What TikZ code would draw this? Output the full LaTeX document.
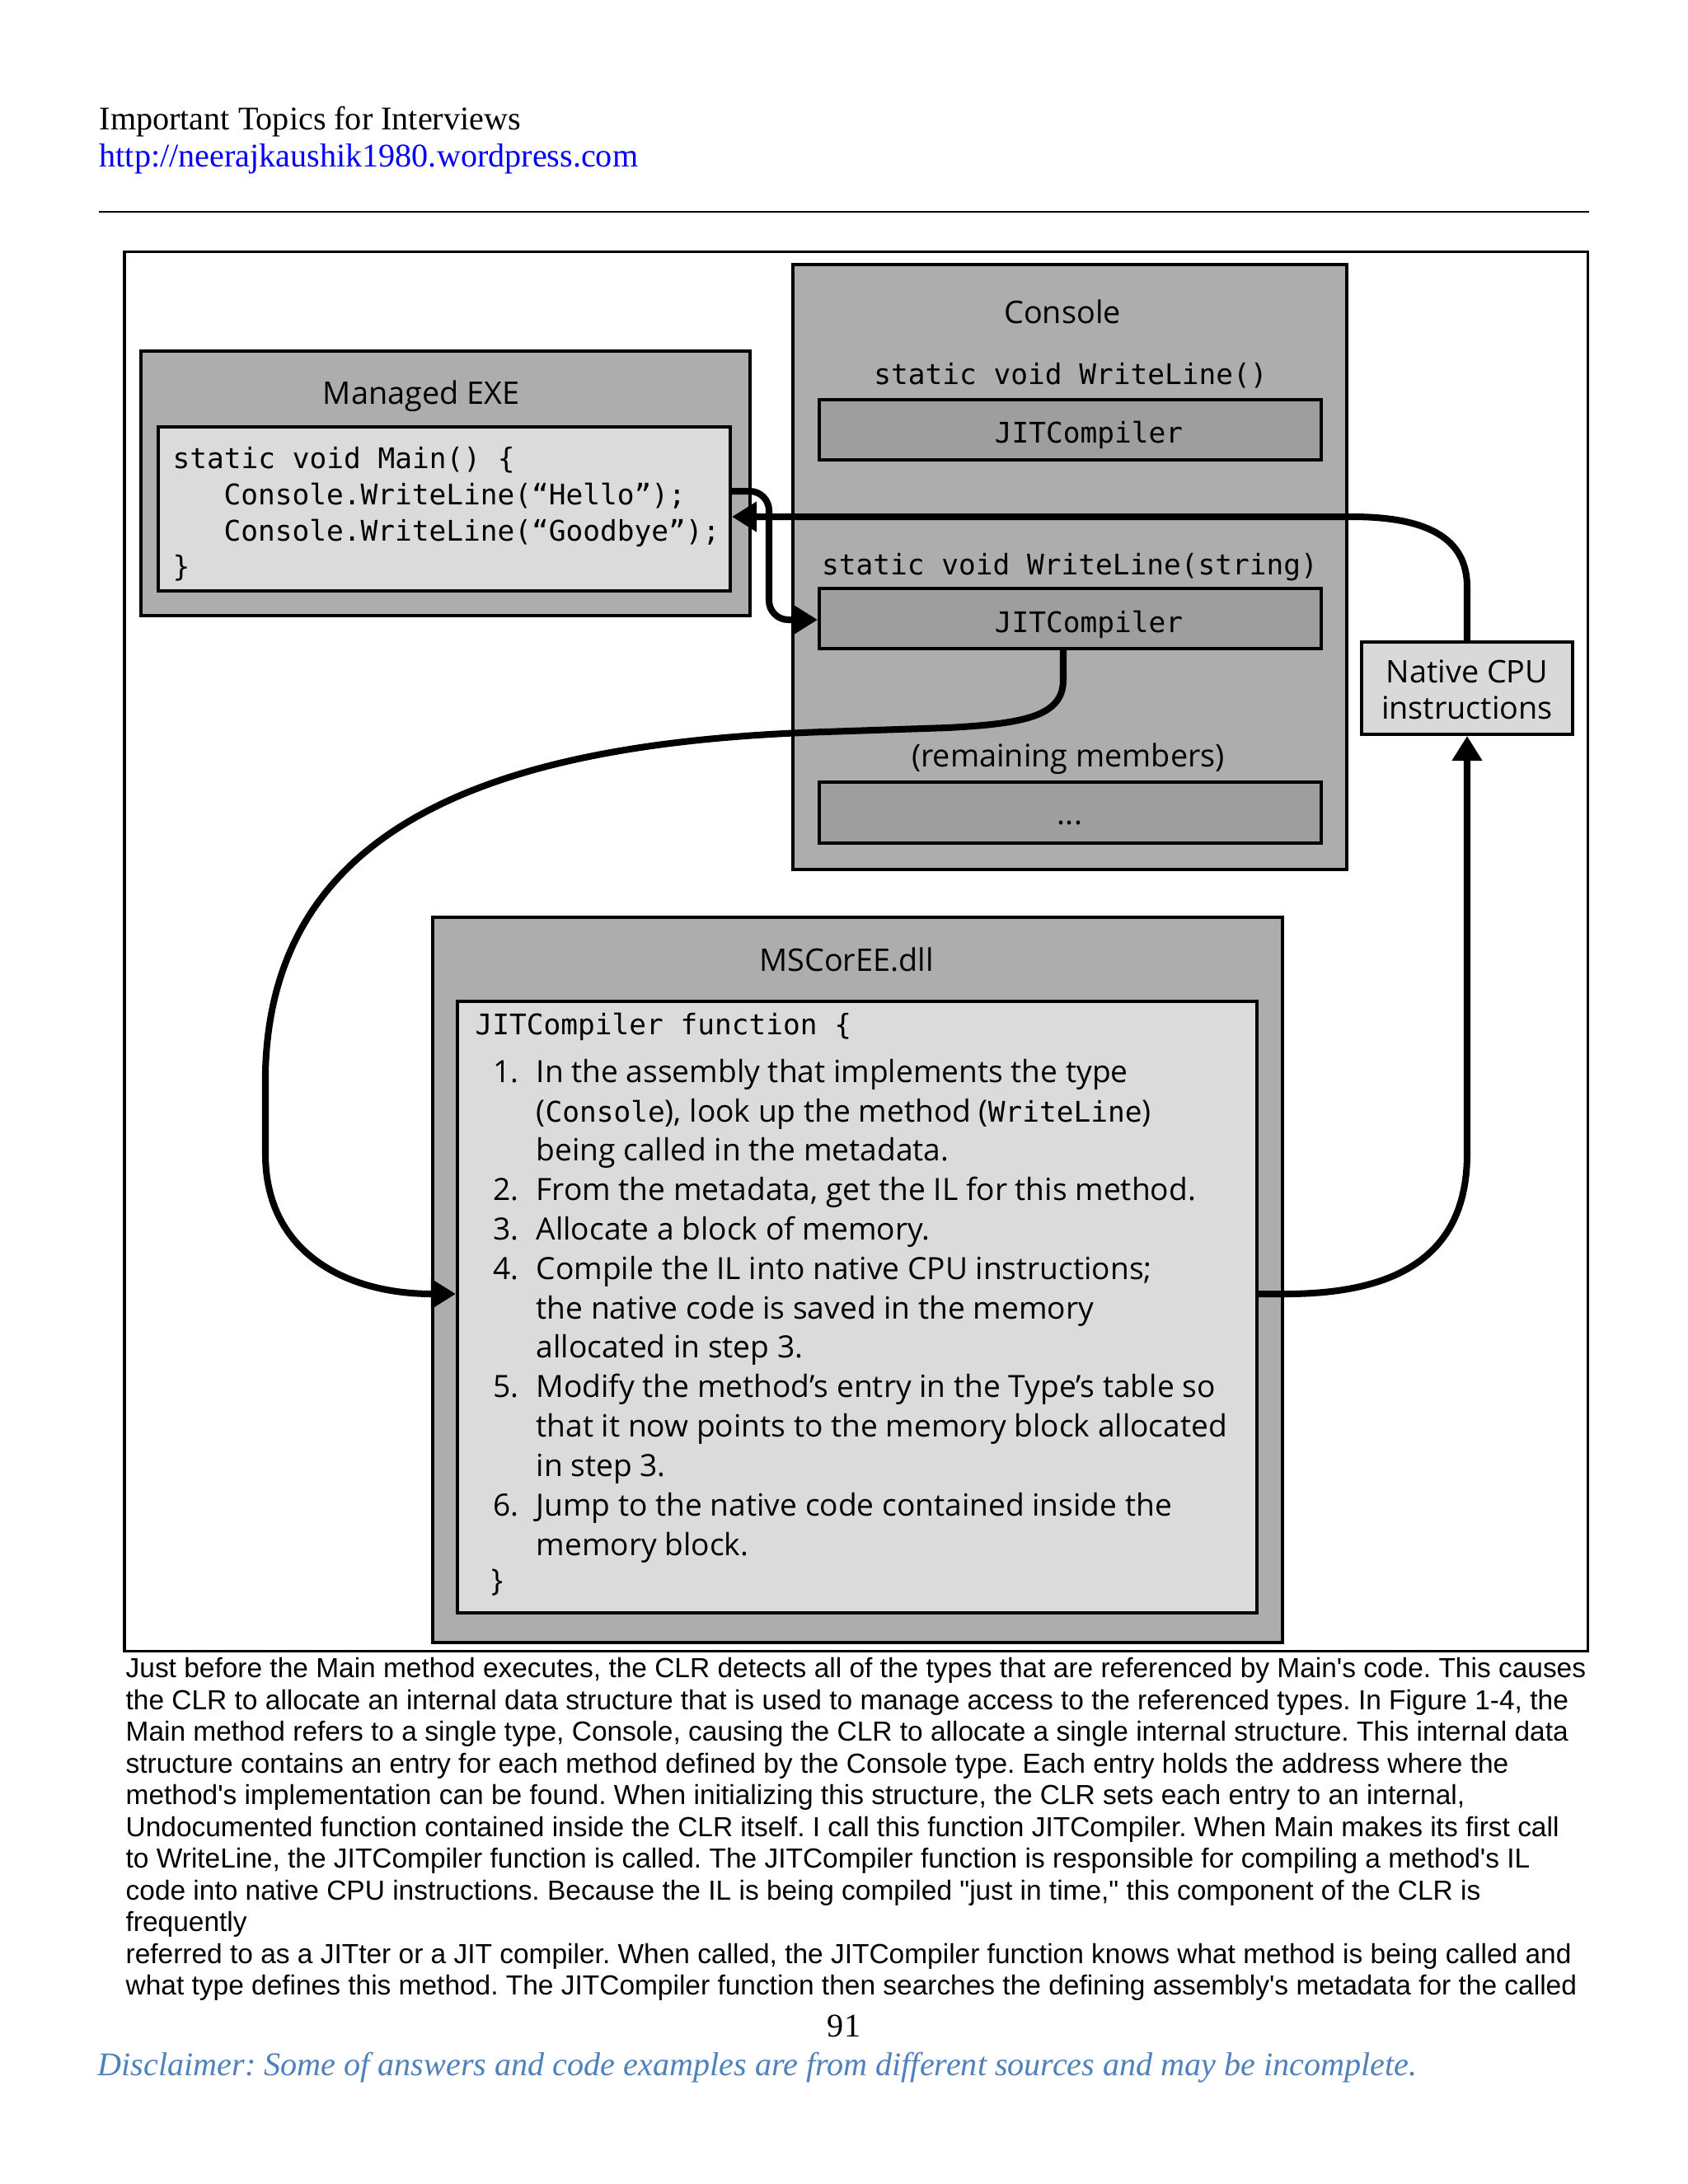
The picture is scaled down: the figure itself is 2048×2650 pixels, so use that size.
\documentclass[tikz,border=0pt]{standalone}
\usepackage{fontspec}
\setmainfont{Liberation Serif}
\newfontfamily\segfont{Open Sans}
\newfontfamily\codefont{DejaVu Sans Mono}
\newfontfamily\arialfont{Liberation Sans}
\usetikzlibrary{arrows.meta,fit}
\definecolor{outergray}{gray}{0.68}
\definecolor{codegray}{gray}{0.86}
\definecolor{jitgray}{gray}{0.62}
\definecolor{nativegray}{gray}{0.85}
\definecolor{linkblue}{RGB}{0,0,255}
\definecolor{discblue}{RGB}{79,129,189}
\frenchspacing
\begin{document}
\begin{tikzpicture}[x=0.29883pt,y=-0.29883pt,
  outerbox/.style={draw=black,line width=1.2pt,fill=outergray,inner sep=0pt},
  codebox/.style={draw=black,line width=1.2pt,fill=codegray,inner sep=0pt},
  jitbox/.style={draw=black,line width=1.2pt,fill=jitgray,inner sep=0pt},
  nativebox/.style={draw=black,line width=1.2pt,fill=nativegray,inner sep=0pt},
  lbl/.style={inner sep=0pt,anchor=base,font=\segfont\fontsize{11.3}{13}\selectfont},
  lblw/.style={inner sep=0pt,anchor=base west,font=\segfont\fontsize{11.1}{13}\selectfont},
  cd/.style={inner sep=0pt,anchor=base,font=\codefont\fontsize{10.3}{12}\selectfont},
  cdw/.style={inner sep=0pt,anchor=base west,font=\codefont\fontsize{10.3}{12}\selectfont},
  body/.style={inner sep=0pt,anchor=base west,font=\arialfont\fontsize{10}{11.5}\selectfont},
  conn/.style={line width=2.4pt,-{Triangle[length=9pt,width=10.5pt]}}]
\useasboundingbox (0,0) rectangle (2048,2650);
\fill[white] (0,0) rectangle (2048,2650);

% header
\node[inner sep=0pt,anchor=base west,font=\fontsize{12}{14}\selectfont] (hdr) at (120,157) {Important Topics for Interviews};
\node[inner sep=0pt,anchor=base west,font=\fontsize{12}{14}\selectfont,text=linkblue] (url) at (120,202) {http://neerajkaushik1980.wordpress.com};
\draw[line width=0.8pt] (120,257) -- (1928,257);

% frame
\draw[line width=0.9pt] (151,305) rectangle (1926,2003);

% Managed EXE
\node[outerbox,fit={(171,426) (910,747)}] (exe) {};
\node[lbl] (exet) at (511,490) {Managed EXE};
\node[codebox,fit={(192,518) (886,717)}] (code) {};
\node[cdw] (c1) at (209,568) {static void Main() \{};
\node[cdw] (c2) at (271,612) {Console.WriteLine(“Hello”);};
\node[cdw] (c3) at (271,656) {Console.WriteLine(“Goodbye”);};
\node[cdw] (c4) at (209,699) {\}};

% Console
\node[outerbox,fit={(962,321) (1634,1055)}] (console) {};
\node[lbl] (cont) at (1289,392) {Console};
\node[cd] (wl0) at (1299,466) {static void WriteLine()};
\node[jitbox,fit={(994,485) (1603,558)}] (jit1) {};
\node[cd] (jit1t) at (1321,537) {JITCompiler};
\node[cd] (wl1) at (1298,697) {static void WriteLine(string)};
\node[jitbox,fit={(994,714) (1603,787)}] (jit2) {};
\node[cd] (jit2t) at (1321,767) {JITCompiler};
\node[lbl] (rem) at (1296,930) {(remaining members)};
\node[jitbox,fit={(994,949) (1603,1023)}] (dots) {};
\node[lbl] (dotst) at (1298,1000) {...};

% Native CPU
\node[nativebox,fit={(1652,779) (1908,891)}] (native) {};
\node[lbl] (nat1) at (1780,828) {Native CPU};
\node[lbl] (nat2) at (1780,872) {instructions};

% MSCorEE
\node[outerbox,fit={(525,1113) (1556,1993)}] (ms) {};
\node[lbl] (mst) at (1027,1178) {MSCorEE.dll};
\node[codebox,fit={(555,1215) (1525,1957)}] (inner) {};
\node[cdw] (f0) at (576,1255) {JITCompiler function \{};
\node[lblw] (n1) at (598,1313) {1.};
\node[lblw] (l1) at (650,1313) {In the assembly that implements the type};
\node[lblw] (l2) at (650,1361) {({\codefont\fontsize{10.3}{12}\selectfont Console}), look up the method ({\codefont\fontsize{10.3}{12}\selectfont WriteLine})};
\node[lblw] (l3) at (650,1408) {being called in the metadata.};
\node[lblw] (n2) at (598,1456) {2.};
\node[lblw] (l4) at (650,1456) {From the metadata, get the IL for this method.};
\node[lblw] (n3) at (598,1504) {3.};
\node[lblw] (l5) at (650,1504) {Allocate a block of memory.};
\node[lblw] (n4) at (598,1552) {4.};
\node[lblw] (l6) at (650,1552) {Compile the IL into native CPU instructions;};
\node[lblw] (l7) at (650,1600) {the native code is saved in the memory};
\node[lblw] (l8) at (650,1647) {allocated in step 3.};
\node[lblw] (n5) at (598,1695) {5.};
\node[lblw] (l9) at (650,1695) {Modify the method’s entry in the Type’s table so};
\node[lblw] (l10) at (650,1743) {that it now points to the memory block allocated};
\node[lblw] (l11) at (650,1791) {in step 3.};
\node[lblw] (n6) at (598,1839) {6.};
\node[lblw] (l12) at (650,1839) {Jump to the native code contained inside the};
\node[lblw] (l13) at (650,1887) {memory block.};
\node[lblw] (fend) at (596,1930) {\}};

% connectors
\draw[conn,rounded corners=7pt] (code.east |- 0,596) -- (933,596) -- (933,752) -- (jit2.west |- 0,752);
\draw[conn] (native.north) -- (1780,712) .. controls (1780,652) and (1730,627) .. (1640,627) -- (code.east |- 0,627);
\draw[conn] (1290,0 |- jit2.south) -- (1290,825) .. controls (1290,870) and (1240,878) .. (1150,883) -- (1000,888) .. controls (600,901) and (330,1000) .. (322,1300) -- (322,1400) .. controls (322,1520) and (420,1570) .. (inner.west |- 0,1570);
\draw[conn] (inner.east |- 0,1570) -- (1560,1570) .. controls (1700,1570) and (1780,1520) .. (1780,1400) -- (native.south);

% body text
\node[body] (b1) at (152,2035.5) {Just before the Main method executes, the CLR detects all of the types that are referenced by Main's code. This causes};
\node[body] (b2) at (152,2074) {the CLR to allocate an internal data structure that is used to manage access to the referenced types. In Figure 1-4, the};
\node[body] (b3) at (152,2112.5) {Main method refers to a single type, Console, causing the CLR to allocate a single internal structure. This internal data};
\node[body] (b4) at (152,2151) {structure contains an entry for each method defined by the Console type. Each entry holds the address where the};
\node[body] (b5) at (152,2189.5) {method's implementation can be found. When initializing this structure, the CLR sets each entry to an internal,};
\node[body] (b6) at (152,2228) {Undocumented function contained inside the CLR itself. I call this function JITCompiler. When Main makes its first call};
\node[body] (b7) at (152,2266.5) {to WriteLine, the JITCompiler function is called. The JITCompiler function is responsible for compiling a method's IL};
\node[body] (b8) at (152,2305) {code into native CPU instructions. Because the IL is being compiled "just in time," this component of the CLR is};
\node[body] (b9) at (152,2343.5) {frequently};
\node[body] (b10) at (152,2382) {referred to as a JITter or a JIT compiler. When called, the JITCompiler function knows what method is being called and};
\node[body] (b11) at (152,2420.5) {what type defines this method. The JITCompiler function then searches the defining assembly's metadata for the called};

% footer
\node[inner sep=0pt,anchor=base,font=\fontsize{12}{14}\selectfont] (pg) at (1024,2471) {91};
\node[inner sep=0pt,anchor=base west,font=\itshape\fontsize{12}{14}\selectfont,text=discblue] (disc) at (118,2518) {Disclaimer: Some of answers and code examples are from different sources and may be incomplete.};
\end{tikzpicture}
\end{document}
